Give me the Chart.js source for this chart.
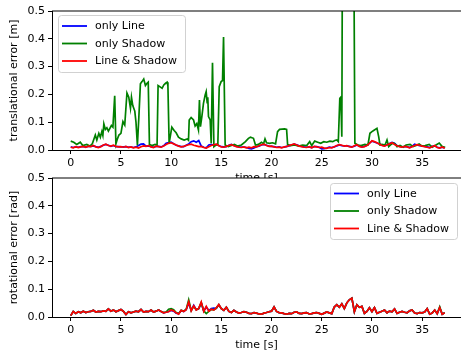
<!DOCTYPE html>
<html><head><meta charset="utf-8">
<script src="https://cdn.jsdelivr.net/npm/chart.js@4/dist/chart.umd.min.js"></script>
<style>
html,body{margin:0;padding:0;background:#fff;}
#wrap{position:relative;width:461px;height:353px;overflow:hidden;background:#fff;}
canvas{position:absolute;left:0;top:0;}
</style></head><body>
<div id="wrap"><canvas id="c1" width="461" height="353"></canvas><canvas id="c2" width="461" height="353"></canvas></div>
<script>
const seriesNames = ['only Line', 'only Shadow', 'Line & Shadow'];
const seriesColors = ['#0000ff', '#008000', '#ff0000'];
const xTicks = [0, 5, 10, 15, 20, 25, 30, 35];
const yTicks = [0, 0.1, 0.2, 0.3, 0.4, 0.5];

const times = [0,0.25,0.5,0.75,1,1.25,1.5,1.75,2,2.25,2.5,2.75,3,3.25,3.5,3.75,4,4.25,4.5,4.75,5,5.25,5.5,5.75,6,6.25,6.5,6.75,7,7.25,7.5,7.75,8,8.25,8.5,8.75,9,9.25,9.5,9.75,10,10.25,10.5,10.75,11,11.25,11.5,11.75,12,12.25,12.5,12.75,13,13.25,13.5,13.75,14,14.25,14.5,14.75,15,15.25,15.5,15.75,16,16.25,16.5,16.75,17,17.25,17.5,17.75,18,18.25,18.5,18.75,19,19.25,19.5,19.75,20,20.25,20.5,20.75,21,21.25,21.5,21.75,22,22.25,22.5,22.75,23,23.25,23.5,23.75,24,24.25,24.5,24.75,25,25.25,25.5,25.75,26,26.25,26.5,26.75,27,27.25,27.5,27.75,28,28.25,28.5,28.75,29,29.25,29.5,29.75,30,30.25,30.5,30.75,31,31.25,31.5,31.75,32,32.25,32.5,32.75,33,33.25,33.5,33.75,34,34.25,34.5,34.75,35,35.25,35.5,35.75,36,36.25,36.5,36.75,37,37.25];

// translational error [m]
const transLine = [
0.011,0.009,0.011,0.010,0.012,0.012,0.011,0.013,0.013,0.015,0.012,0.010,
0.013,0.017,0.020,0.017,0.013,0.016,0.012,0.012,0.011,0.011,0.012,0.010,
0.010,0.009,0.011,0.016,0.021,0.022,0.014,0.015,0.012,0.010,0.013,0.013,
0.011,0.015,0.024,0.027,0.028,0.023,0.017,0.015,0.012,0.012,0.017,0.022,
0.030,0.033,0.028,0.034,0.014,0.010,0.008,0.018,0.020,0.017,0.020,0.016,
0.012,0.011,0.012,0.017,0.020,0.016,0.013,0.011,0.010,0.010,0.009,0.006,
0.004,0.007,0.012,0.014,0.018,0.020,0.017,0.014,0.013,0.012,0.010,0.011,
0.009,0.010,0.013,0.015,0.018,0.021,0.019,0.015,0.013,0.011,0.010,0.011,
0.009,0.012,0.012,0.010,0.004,0.005,0.007,0.010,0.009,0.011,0.015,0.018,
0.016,0.015,0.015,0.013,0.011,0.014,0.018,0.014,0.011,0.013,0.017,0.025,
0.032,0.029,0.025,0.022,0.017,0.015,0.019,0.023,0.027,0.024,0.016,0.013,
0.011,0.012,0.012,0.009,0.013,0.021,0.018,0.016,0.015,0.013,0.011,0.009,
0.013,0.015,0.010,0.008,0.010,0.007];

const transBoth = [
0.010,0.008,0.012,0.009,0.011,0.013,0.010,0.014,0.012,0.016,0.011,0.009,
0.012,0.018,0.021,0.016,0.014,0.017,0.013,0.011,0.012,0.010,0.013,0.009,
0.011,0.008,0.010,0.007,0.012,0.015,0.013,0.016,0.011,0.009,0.014,0.012,
0.010,0.014,0.020,0.024,0.026,0.022,0.018,0.014,0.011,0.013,0.016,0.019,
0.021,0.017,0.015,0.012,0.013,0.009,0.007,0.012,0.016,0.019,0.021,0.015,
0.011,0.010,0.013,0.016,0.019,0.015,0.012,0.010,0.009,0.011,0.008,0.010,
0.008,0.012,0.011,0.015,0.019,0.021,0.016,0.013,0.014,0.011,0.009,0.010,
0.008,0.011,0.012,0.016,0.019,0.022,0.018,0.014,0.012,0.010,0.009,0.012,
0.008,0.013,0.011,0.009,0.010,0.007,0.006,0.009,0.008,0.012,0.016,0.019,
0.017,0.014,0.016,0.012,0.010,0.015,0.019,0.013,0.010,0.012,0.016,0.024,
0.033,0.030,0.026,0.021,0.016,0.014,0.018,0.022,0.026,0.020,0.015,0.012,
0.010,0.013,0.011,0.008,0.012,0.016,0.019,0.017,0.014,0.012,0.010,0.008,
0.012,0.016,0.009,0.007,0.011,0.006];

// only Shadow, translational: [time, value]
const transShadow = [
[0.0,0.032],[0.3,0.028],[0.6,0.020],[0.95,0.028],[1.2,0.016],[1.6,0.020],[1.9,0.014],[2.15,0.022],[2.45,0.054],[2.6,0.036],
[2.8,0.060],[2.95,0.046],[3.1,0.066],[3.2,0.052],[3.3,0.094],[3.45,0.074],[3.6,0.080],[3.75,0.068],[3.9,0.078],[4.05,0.088],
[4.2,0.082],[4.38,0.195],[4.5,0.022],[4.65,0.040],[4.8,0.054],[5.0,0.060],[5.2,0.102],[5.38,0.090],[5.6,0.205],[5.78,0.190],
[5.95,0.150],[6.05,0.190],[6.18,0.160],[6.38,0.140],[6.5,0.100],[6.64,0.017],[6.78,0.114],[6.94,0.238],[7.1,0.246],[7.27,0.255],
[7.44,0.232],[7.6,0.240],[7.72,0.244],[7.84,0.020],[8.1,0.016],[8.4,0.020],[8.6,0.018],[8.7,0.232],[8.94,0.226],[9.1,0.222],
[9.27,0.234],[9.45,0.240],[9.6,0.244],[9.68,0.230],[9.8,0.024],[10.07,0.082],[10.3,0.070],[10.5,0.062],[10.73,0.046],[11.0,0.040],
[11.3,0.036],[11.6,0.040],[11.73,0.035],[11.8,0.108],[11.99,0.117],[12.23,0.108],[12.39,0.086],[12.56,0.095],[12.72,0.072],[12.82,0.180],
[12.92,0.084],[13.06,0.120],[13.22,0.168],[13.39,0.198],[13.49,0.210],[13.59,0.170],[13.65,0.190],[13.72,0.120],[13.89,0.108],[13.99,0.024],
[14.12,0.314],[14.26,0.012],[14.45,0.018],[14.65,0.018],[14.79,0.228],[14.98,0.246],[15.12,0.250],[15.22,0.406],[15.38,0.018],[15.7,0.012],
[16.0,0.016],[16.3,0.020],[16.6,0.014],[17.0,0.018],[17.4,0.030],[17.7,0.042],[17.9,0.046],[18.2,0.042],[18.4,0.018],[18.7,0.020],
[19.0,0.028],[19.2,0.022],[19.35,0.040],[19.5,0.026],[19.8,0.024],[20.1,0.026],[20.4,0.022],[20.6,0.066],[20.8,0.074],[21.05,0.075],
[21.3,0.076],[21.5,0.074],[21.6,0.020],[21.9,0.016],[22.3,0.018],[22.7,0.014],[23.1,0.018],[23.5,0.016],[23.8,0.030],[24.0,0.016],
[24.3,0.032],[24.6,0.028],[24.9,0.024],[25.2,0.030],[25.5,0.028],[25.8,0.032],[26.1,0.030],[26.3,0.034],[26.5,0.036],[26.65,0.030],
[26.8,0.186],[26.9,0.190],[27.0,0.048],[27.1,1.200],[27.5,1.300],[27.9,1.250],[28.12,1.200],[28.3,0.024],[28.6,0.018],[28.9,0.016],
[29.3,0.020],[29.6,0.018],[29.8,0.060],[30.0,0.066],[30.17,0.070],[30.5,0.078],[30.67,0.048],[30.8,0.018],[31.0,0.020],[31.3,0.018],
[31.5,0.036],[31.67,0.012],[31.9,0.020],[32.1,0.025],[32.3,0.022],[32.5,0.012],[32.8,0.016],[33.1,0.010],[33.4,0.018],[33.8,0.020],
[34.1,0.012],[34.4,0.016],[34.7,0.022],[35.0,0.014],[35.3,0.016],[35.7,0.020],[36.0,0.010],[36.3,0.016],[36.7,0.025],[37.0,0.012],
[37.3,0.010]];

// rotational error [rad]
const rotLine = [
0.005,0.020,0.013,0.019,0.015,0.021,0.016,0.019,0.020,0.024,0.018,0.020,
0.019,0.022,0.020,0.029,0.021,0.025,0.019,0.023,0.027,0.020,0.009,0.019,
0.015,0.018,0.021,0.019,0.027,0.018,0.020,0.019,0.025,0.018,0.021,0.025,
0.020,0.015,0.017,0.020,0.024,0.021,0.014,0.012,0.023,0.020,0.027,0.050,
0.024,0.042,0.026,0.030,0.050,0.021,0.036,0.023,0.030,0.032,0.031,0.044,
0.030,0.024,0.035,0.020,0.016,0.024,0.018,0.014,0.016,0.019,0.017,0.013,
0.012,0.016,0.014,0.011,0.010,0.014,0.016,0.019,0.021,0.036,0.020,0.016,
0.015,0.012,0.010,0.013,0.012,0.017,0.018,0.013,0.012,0.015,0.016,0.011,
0.012,0.015,0.016,0.013,0.010,0.014,0.018,0.015,0.012,0.036,0.044,0.035,
0.047,0.030,0.051,0.062,0.068,0.019,0.044,0.035,0.038,0.013,0.020,0.033,
0.019,0.034,0.013,0.017,0.021,0.025,0.015,0.021,0.019,0.029,0.013,0.017,
0.020,0.017,0.015,0.022,0.025,0.014,0.012,0.016,0.015,0.018,0.030,0.010,
0.014,0.025,0.012,0.034,0.010,0.015];

const rotShadow = [
0.005,0.020,0.013,0.019,0.015,0.021,0.016,0.019,0.020,0.024,0.018,0.020,
0.019,0.022,0.020,0.029,0.021,0.025,0.019,0.023,0.027,0.020,0.009,0.019,
0.015,0.018,0.021,0.019,0.027,0.018,0.020,0.019,0.025,0.018,0.021,0.025,
0.020,0.016,0.018,0.028,0.030,0.026,0.016,0.012,0.024,0.021,0.027,0.062,
0.023,0.038,0.026,0.030,0.052,0.022,0.012,0.020,0.027,0.026,0.032,0.044,
0.030,0.024,0.035,0.020,0.016,0.024,0.018,0.014,0.016,0.019,0.017,0.013,
0.012,0.016,0.014,0.011,0.010,0.014,0.016,0.019,0.021,0.036,0.020,0.016,
0.015,0.012,0.010,0.013,0.012,0.017,0.018,0.013,0.012,0.015,0.016,0.011,
0.012,0.015,0.016,0.013,0.010,0.014,0.018,0.015,0.012,0.036,0.044,0.035,
0.047,0.030,0.051,0.062,0.068,0.019,0.044,0.035,0.038,0.013,0.020,0.033,
0.019,0.034,0.013,0.017,0.021,0.025,0.015,0.021,0.019,0.029,0.013,0.017,
0.020,0.017,0.015,0.022,0.025,0.014,0.012,0.016,0.015,0.018,0.030,0.010,
0.014,0.025,0.012,0.037,0.010,0.015];

const rotBoth = [
0.005,0.020,0.013,0.019,0.015,0.021,0.016,0.019,0.020,0.024,0.018,0.020,
0.019,0.022,0.020,0.029,0.021,0.025,0.019,0.023,0.027,0.020,0.009,0.019,
0.015,0.018,0.021,0.019,0.027,0.018,0.020,0.019,0.025,0.018,0.021,0.025,
0.020,0.015,0.017,0.019,0.025,0.022,0.015,0.010,0.024,0.020,0.026,0.055,
0.022,0.040,0.025,0.031,0.054,0.020,0.038,0.021,0.028,0.025,0.033,0.045,
0.030,0.024,0.035,0.020,0.016,0.024,0.018,0.014,0.016,0.019,0.017,0.013,
0.012,0.016,0.014,0.011,0.010,0.014,0.016,0.019,0.021,0.036,0.020,0.016,
0.015,0.012,0.010,0.013,0.012,0.017,0.018,0.013,0.012,0.015,0.016,0.011,
0.012,0.015,0.016,0.013,0.010,0.014,0.018,0.015,0.012,0.036,0.044,0.035,
0.047,0.030,0.051,0.062,0.068,0.019,0.044,0.035,0.038,0.013,0.020,0.033,
0.019,0.034,0.013,0.017,0.021,0.025,0.015,0.021,0.019,0.029,0.013,0.017,
0.020,0.017,0.015,0.022,0.025,0.014,0.012,0.016,0.015,0.018,0.030,0.010,
0.014,0.025,0.012,0.034,0.010,0.015];

Chart.defaults.font.family = "'DejaVu Sans', sans-serif";
Chart.defaults.font.size = 11;
Chart.defaults.color = '#000';

function onGrid(arr) { return times.map((t, i) => ({x: t, y: arr[i]})); }
function fromPairs(arr) { return arr.map(p => ({x: p[0], y: p[1]})); }

function legendPlugin(box, rows, hx, tx) {
  return {
    id: 'customLegend',
    afterDraw(chart) {
      const ctx = chart.ctx;
      ctx.save();
      ctx.beginPath();
      ctx.roundRect(box.x + 0.5, box.y + 0.5, box.w, box.h, 3);
      ctx.fillStyle = 'rgba(255,255,255,0.8)';
      ctx.fill();
      ctx.strokeStyle = 'rgba(204,204,204,0.9)';
      ctx.lineWidth = 1;
      ctx.stroke();
      ctx.font = "11px 'DejaVu Sans'";
      ctx.textBaseline = 'middle';
      ctx.textAlign = 'left';
      seriesNames.forEach((name, i) => {
        ctx.beginPath();
        ctx.moveTo(hx[0], rows[i]);
        ctx.lineTo(hx[1], rows[i]);
        ctx.strokeStyle = seriesColors[i];
        ctx.lineWidth = 1.8;
        ctx.stroke();
        ctx.fillStyle = '#000';
        ctx.fillText(name, tx, rows[i] + 0.5);
      });
      ctx.restore();
    }
  };
}

const framePlugin = {
  id: 'frame',
  beforeDraw(chart, args, opts) {
    if (opts.white) {
      const a = chart.chartArea;
      const ctx = chart.ctx;
      ctx.save();
      ctx.fillStyle = '#fff';
      ctx.fillRect(a.left, a.top, a.right - a.left, a.bottom - a.top);
      ctx.restore();
    }
  },
  afterDatasetsDraw(chart, args, opts) {
    const a = chart.chartArea;
    const ctx = chart.ctx;
    ctx.save();
    ctx.beginPath();
    ctx.moveTo(a.left, a.top);
    ctx.lineTo(a.right, a.top);
    ctx.strokeStyle = opts.topColor;
    ctx.lineWidth = opts.topWidth;
    ctx.stroke();
    ctx.restore();
  }
};

function makeChart(id, yTitle, sets, padTop, padBottom, legend, frameOpts) {
  return new Chart(document.getElementById(id), {
    type: 'line',
    data: {
      datasets: sets.map((d, i) => ({
        label: seriesNames[i],
        data: d,
        borderColor: seriesColors[i],
        backgroundColor: seriesColors[i],
        borderWidth: 1.7,
        pointRadius: 0,
        fill: false,
        tension: 0,
        order: 2 - i
      }))
    },
    options: {
      responsive: false,
      animation: false,
      devicePixelRatio: 1,
      events: [],
      layout: {padding: {left: 0, right: 0, top: padTop, bottom: padBottom}},
      plugins: {legend: {display: false}, tooltip: {enabled: false}, frame: frameOpts},
      scales: {
        x: {
          type: 'linear', min: -1.865, max: 38.87,
          afterBuildTicks: s => { s.ticks = xTicks.map(v => ({value: v})); },
          afterFit: s => { s.height = 35; },
          ticks: {color: '#000', padding: 3, maxRotation: 0, autoSkip: false, callback: v => String(v)},
          grid: {display: true, drawOnChartArea: false, drawTicks: true, tickLength: 4, tickColor: '#000', tickWidth: 1},
          border: {display: true, color: '#000', width: 1},
          title: {display: true, text: 'time [s]', color: '#000', padding: {top: 0, bottom: 0}}
        },
        y: {
          type: 'linear', min: 0, max: 0.5,
          afterBuildTicks: s => { s.ticks = yTicks.map(v => ({value: v})); },
          afterFit: s => { s.width = 52; },
          ticks: {color: '#000', padding: 3, callback: v => v.toFixed(1)},
          grid: {display: true, drawOnChartArea: false, drawTicks: true, tickLength: 4, tickColor: '#000', tickWidth: 1},
          border: {display: true, color: '#000', width: 1},
          title: {display: true, text: yTitle, color: '#000', padding: {top: 8, bottom: 0}}
        }
      }
    },
    plugins: [framePlugin, legend]
  });
}

makeChart('c1', 'translational error [m]',
  [onGrid(transLine), fromPairs(transShadow), onGrid(transBoth)],
  11, 168,
  legendPlugin({x: 58, y: 15, w: 127, h: 57}, [26, 43.5, 61], [62, 87], 95),
  {white: false, topColor: 'rgba(0,0,0,0.5)', topWidth: 2});

makeChart('c2', 'rotational error [rad]',
  [onGrid(rotLine), onGrid(rotShadow), onGrid(rotBoth)],
  178, 1,
  legendPlugin({x: 330, y: 183, w: 127, h: 56}, [193.5, 211, 228.5], [334, 359], 367),
  {white: true, topColor: '#000', topWidth: 1});
</script>
</body></html>
